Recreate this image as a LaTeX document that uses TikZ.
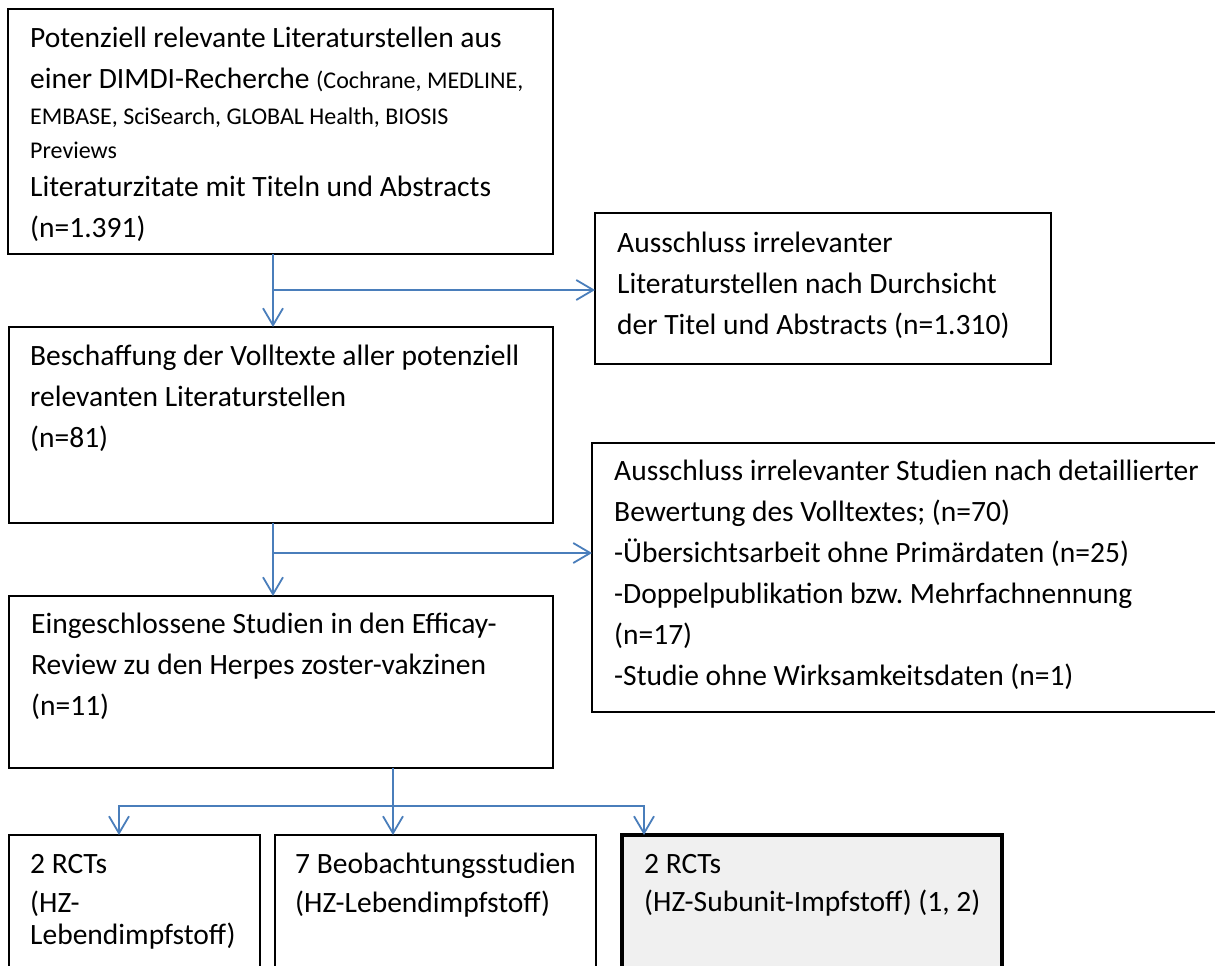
\documentclass[tikz,border=0pt]{standalone}
\usepackage{fontspec}
\setmainfont{Carlito}
\usetikzlibrary{arrows.meta}
\definecolor{pfeil}{HTML}{4A7EBB}
\definecolor{grau}{HTML}{F0F0F0}
\newcommand\klein{\fontsize{24}{34}\selectfont}

\begin{document}
\begin{tikzpicture}[x=1pt,y=-1pt,
	box/.style={draw, line width=2pt, anchor=north west, inner sep=0pt, outer sep=0pt},
	txt/.style={anchor=north west, inner sep=0pt, align=left, font=\fontsize{29.5}{41}\selectfont},
	txtb/.style={txt, font=\fontsize{29.5}{39}\selectfont},
	arr/.style={-{Straight Barb[length=17pt,width=20pt]}, line width=1.8pt, color=pfeil}]
	\useasboundingbox (0,0) rectangle (1215,966);

	\node[box, minimum width=545, minimum height=245] (lit) at (8,9) {};
	\node[box, minimum width=456, minimum height=151] (ex1) at (595,213) {};
	\node[box, minimum width=544, minimum height=196] (voll) at (9,327) {};
	\node[box, minimum width=640, minimum height=269] (ex2) at (592,443) {};
	\node[box, minimum width=544, minimum height=172] (ein) at (9,596) {};

	\node[box, minimum width=251, minimum height=160] (rct1) at (9,835) {};
	\node[box, minimum width=321, minimum height=160] (beob) at (275,835) {};
	\node[box, line width=3.5pt, fill=grau, minimum width=380, minimum height=160] (rct2) at (622,835) {};

	\node[txt] (litT) at ([shift={(22,9.3)}]lit.north west) {\strut Potenziell relevante Literaturstellen aus\\
		einer DIMDI-Recherche {\klein (Cochrane, MEDLINE,}\\[-5pt]
		{\klein EMBASE, SciSearch, GLOBAL Health, BIOSIS}\\[-7pt]
		{\klein Previews}\\[-3pt]
		Literaturzitate mit Titeln und Abstracts\\
		(n=1.391)};
	\node[txt] (ex1T) at ([shift={(22,10.3)}]ex1.north west) {\strut Ausschluss irrelevanter\\
		Literaturstellen nach Durchsicht\\
		der Titel und Abstracts (n=1.310)};
	\node[txt] (vollT) at ([shift={(21,9.3)}]voll.north west) {\strut Beschaffung der Volltexte aller potenziell\\
		relevanten Literaturstellen\\
		(n=81)};
	\node[txt] (ex2T) at ([shift={(22,8.3)}]ex2.north west) {\strut Ausschluss irrelevanter Studien nach detaillierter\\
		Bewertung des Volltextes; (n=70)\\
		-Übersichtsarbeit ohne Primärdaten (n=25)\\
		-Doppelpublikation bzw.\ Mehrfachnennung\\
		(n=17)\\
		-Studie ohne Wirksamkeitsdaten (n=1)};
	\node[txt] (einT) at ([shift={(22,8.3)}]ein.north west) {\strut Eingeschlossene Studien in den Efficay-\\
		Review zu den Herpes zoster-vakzinen\\
		(n=11)};

	\node[txtb] (rct1T) at ([shift={(21,10.7)}]rct1.north west) {\strut 2 RCTs\\
		(HZ-\\[-7pt]
		Lebendimpfstoff)};
	\node[txtb] (beobT) at ([shift={(20,10.7)}]beob.north west) {\strut 7 Beobachtungsstudien\\
		(HZ-Lebendimpfstoff)};
	\node[txtb] (rct2T) at ([shift={(22,10.7)}]rct2.north west) {\strut 2 RCTs\\[-1pt]
		(HZ-Subunit-Impfstoff) (1, 2)};

	% Verzweigungen
	\coordinate (j1) at (273,290);
	\coordinate (j2) at (273,553);
	\coordinate (j3) at (393,806);
	\coordinate (l3) at (119,806);
	\coordinate (r3) at (644,806);

	\draw [arr] (lit.south -| j1) -- (voll.north -| j1);
	\draw [arr] (j1) -- (j1 -| ex1.west);

	\draw [arr] (voll.south -| j2) -- (ein.north -| j2);
	\draw [arr] (j2) -- (j2 -| ex2.west);

	\draw [arr] (ein.south -| j3) -- (beob.north -| j3);
	\draw [arr] (r3) -- (l3) -- (l3 |- rct1.north);
	\draw [arr] (l3) -- (r3) -- (r3 |- rct2.north);

\end{tikzpicture}
\end{document}
